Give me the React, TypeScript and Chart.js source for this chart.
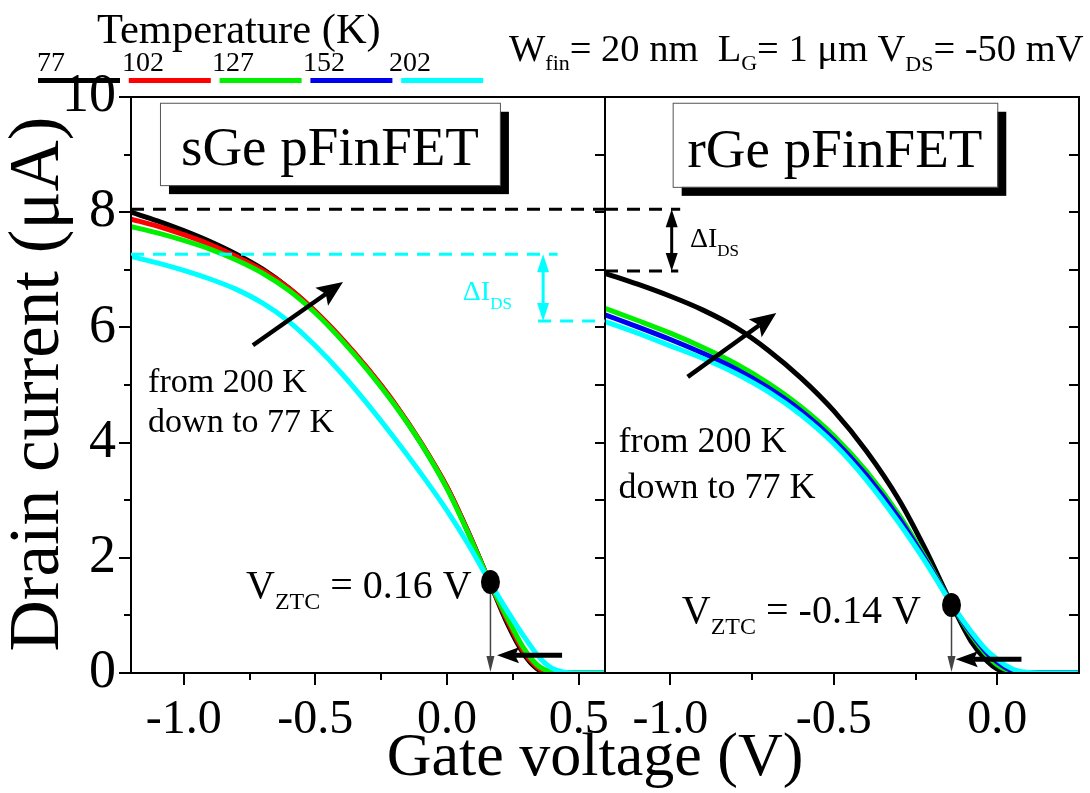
import React, { useEffect, useRef } from 'react';
import { Chart, registerables } from 'chart.js';

Chart.register(...registerables);

const FONT = "'Liberation Serif', 'Times New Roman', serif";

// ---------- legend ----------
const temperatureLabels = ['77', '102', '127', '152', '202'];
const seriesColors = ['#000000', '#ff0000', '#00f000', '#0000f0', '#00ffff'];

// ---------- sGe pFinFET (left panel) ----------
const sgeGateVoltage = [-1.2, -1.1, -1.0, -0.9, -0.8, -0.7, -0.6, -0.5, -0.4, -0.3, -0.2, -0.1, 0.0, 0.08, 0.16, 0.23, 0.29, 0.34, 0.37, 0.4, 0.44, 0.5, 0.6];
const sgeCurrent77 = [8.0, 7.85, 7.68, 7.49, 7.27, 7.01, 6.68, 6.27, 5.8, 5.27, 4.68, 4.0, 3.22, 2.45, 1.6, 0.85, 0.34, 0.08, 0.015, 0, 0, 0, 0];
const sgeCurrent102 = [7.88, 7.76, 7.61, 7.44, 7.23, 6.99, 6.68, 6.28, 5.81, 5.28, 4.69, 4.01, 3.23, 2.45, 1.6, 0.9, 0.38, 0.11, 0.03, 0.005, 0, 0, 0];
const sgeCurrent127 = [7.75, 7.64, 7.51, 7.36, 7.17, 6.94, 6.64, 6.25, 5.78, 5.25, 4.66, 3.99, 3.2, 2.43, 1.6, 0.95, 0.44, 0.15, 0.06, 0.02, 0, 0, 0];
const sgeCurrent202 = [7.23, 7.12, 6.99, 6.84, 6.66, 6.42, 6.1, 5.68, 5.2, 4.66, 4.08, 3.47, 2.82, 2.24, 1.6, 1.07, 0.65, 0.33, 0.18, 0.08, 0.02, 0, 0];

// ---------- rGe pFinFET (right panel) ----------
const rgeGateVoltage = [-1.2, -1.1, -1.0, -0.9, -0.8, -0.7, -0.6, -0.5, -0.4, -0.3, -0.22, -0.14, -0.08, -0.03, 0.0, 0.03, 0.06, 0.1, 0.15, 0.25];
const rgeCurrent77 = [6.94, 6.75, 6.54, 6.3, 6.0, 5.6, 5.12, 4.55, 3.85, 3.0, 2.15, 1.2, 0.55, 0.2, 0.07, 0.01, 0, 0, 0, 0];
const rgeCurrent127 = [6.33, 6.12, 5.9, 5.65, 5.37, 5.03, 4.62, 4.12, 3.5, 2.74, 2.0, 1.2, 0.66, 0.3, 0.14, 0.05, 0.01, 0, 0, 0];
const rgeCurrent152 = [6.22, 6.01, 5.79, 5.55, 5.28, 4.95, 4.55, 4.05, 3.43, 2.68, 1.97, 1.2, 0.69, 0.34, 0.19, 0.08, 0.02, 0, 0, 0];
const rgeCurrent202 = [6.1, 5.9, 5.68, 5.46, 5.2, 4.88, 4.48, 3.98, 3.35, 2.6, 1.93, 1.2, 0.72, 0.38, 0.24, 0.12, 0.04, 0.008, 0, 0];

// ---------- axes ----------
const yTickValues = [0, 1, 2, 3, 4, 5, 6, 7, 8, 9, 10];
const yMajorTicks = [0, 2, 4, 6, 8, 10];
const sgeXTickValues = [-1.0, -0.75, -0.5, -0.25, 0, 0.25, 0.5];
const rgeXTickValues = [-1.0, -0.75, -0.5, -0.25, 0];
const xMajorTicks = [-1.0, -0.5, 0, 0.5];

// ---------- annotations (data coordinates) ----------
const sgeZtc = { x: 0.165, y: 1.58, label: '= 0.16 V' };
const rgeZtc = { x: -0.14, y: 1.18, label: '= -0.14 V' };
const deltaLevelTop = 8.05;
const sgeDeltaLow = { top: 7.27, bottom: 6.11 };
const rgeDeltaLow = 6.98;

type Run = { t: string; size: number; dy: number };

function drawRuns(ctx: CanvasRenderingContext2D, x: number, y: number, runs: Run[], color: string) {
  ctx.fillStyle = color;
  ctx.textBaseline = 'alphabetic';
  ctx.textAlign = 'left';
  let cx = x;
  for (const r of runs) {
    ctx.font = `${r.size}px ${FONT}`;
    ctx.fillText(r.t, cx, y + r.dy);
    cx += ctx.measureText(r.t).width;
  }
}

function head(ctx: CanvasRenderingContext2D, x1: number, y1: number, x2: number, y2: number, len: number, hw: number, notch = 0) {
  const a = Math.atan2(y2 - y1, x2 - x1);
  const c = Math.cos(a), s = Math.sin(a);
  ctx.beginPath();
  ctx.moveTo(x2, y2);
  ctx.lineTo(x2 - len * c + hw * s, y2 - len * s - hw * c);
  ctx.lineTo(x2 - (len - notch) * c, y2 - (len - notch) * s);
  ctx.lineTo(x2 - len * c - hw * s, y2 - len * s + hw * c);
  ctx.closePath();
  ctx.fill();
}

function arrow(ctx: CanvasRenderingContext2D, x1: number, y1: number, x2: number, y2: number, color: string, w: number, len: number, hw: number, notch = 0) {
  const a = Math.atan2(y2 - y1, x2 - x1);
  ctx.strokeStyle = color;
  ctx.fillStyle = color;
  ctx.lineWidth = w;
  ctx.setLineDash([]);
  ctx.beginPath();
  ctx.moveTo(x1, y1);
  ctx.lineTo(x2 - (len - notch) * Math.cos(a), y2 - (len - notch) * Math.sin(a));
  ctx.stroke();
  head(ctx, x1, y1, x2, y2, len, hw, notch);
}

function doubleArrow(ctx: CanvasRenderingContext2D, x: number, yTop: number, yBot: number, color: string) {
  ctx.strokeStyle = color;
  ctx.fillStyle = color;
  ctx.lineWidth = 3;
  ctx.setLineDash([]);
  ctx.beginPath();
  ctx.moveTo(x, yTop + 12);
  ctx.lineTo(x, yBot - 12);
  ctx.stroke();
  head(ctx, x, yBot, x, yTop, 18, 6);
  head(ctx, x, yTop, x, yBot, 18, 6);
}

function dashed(ctx: CanvasRenderingContext2D, x1: number, x2: number, y: number, color: string) {
  ctx.strokeStyle = color;
  ctx.lineWidth = 3;
  ctx.setLineDash([13, 9]);
  ctx.beginPath();
  ctx.moveTo(x1, y);
  ctx.lineTo(x2, y);
  ctx.stroke();
  ctx.setLineDash([]);
}

function box(ctx: CanvasRenderingContext2D, x1: number, y1: number, x2: number, y2: number, text: string) {
  ctx.fillStyle = '#000';
  ctx.fillRect(x1 + 9, y1 + 9, x2 - x1, y2 - y1);
  ctx.fillStyle = '#fff';
  ctx.fillRect(x1, y1, x2 - x1, y2 - y1);
  ctx.strokeStyle = '#555';
  ctx.lineWidth = 1;
  ctx.strokeRect(x1 + 0.5, y1 + 0.5, x2 - x1, y2 - y1);
  ctx.fillStyle = '#000';
  ctx.font = `55px ${FONT}`;
  ctx.textAlign = 'center';
  ctx.textBaseline = 'alphabetic';
  ctx.fillText(text, (x1 + x2) / 2, y2 - 20);
}

function ztcMark(ctx: CanvasRenderingContext2D, px: number, py: number, bottom: number) {
  ctx.strokeStyle = '#444';
  ctx.fillStyle = '#444';
  ctx.lineWidth = 1.5;
  ctx.beginPath();
  ctx.moveTo(px, py);
  ctx.lineTo(px, bottom - 12);
  ctx.stroke();
  head(ctx, px, py, px, bottom - 1, 16, 4);
  ctx.fillStyle = '#000';
  ctx.beginPath();
  ctx.ellipse(px, py, 9.5, 12, 0, 0, Math.PI * 2);
  ctx.fill();
}

function drawTicks(chart: any, xTicks: number[], leftOutside: boolean) {
  const ctx = chart.ctx as CanvasRenderingContext2D;
  const xs = chart.scales.x, ys = chart.scales.y;
  const a = chart.chartArea;
  ctx.strokeStyle = '#000';
  ctx.lineWidth = 2;
  ctx.setLineDash([]);
  ctx.beginPath();
  for (const v of xTicks) {
    const p = Math.round(xs.getPixelForValue(v));
    const len = xMajorTicks.includes(v) ? 12 : 7;
    ctx.moveTo(p, a.bottom);
    ctx.lineTo(p, a.bottom + len);
  }
  for (const v of yTickValues) {
    const p = Math.round(ys.getPixelForValue(v));
    if (leftOutside) {
      const len = yMajorTicks.includes(v) ? 12 : 7;
      ctx.moveTo(a.left, p);
      ctx.lineTo(a.left - len, p);
    }
    ctx.moveTo(a.right, p);
    ctx.lineTo(a.right - 10, p);
  }
  ctx.stroke();
  ctx.strokeRect(a.left, a.top, a.right - a.left, a.bottom - a.top);
}

const leftDecor = {
  id: 'leftDecor',
  afterDraw(chart: any) {
    const ctx = chart.ctx as CanvasRenderingContext2D;
    const X = (v: number) => chart.scales.x.getPixelForValue(v);
    const Y = (v: number) => chart.scales.y.getPixelForValue(v);
    const a = chart.chartArea;
    ctx.save();
    drawTicks(chart, sgeXTickValues, true);

    // dashed reference lines
    dashed(ctx, a.left, a.right, Y(deltaLevelTop), '#000');
    dashed(ctx, a.left, X(0.42), Y(sgeDeltaLow.top), '#00ffff');
    dashed(ctx, X(0.346), a.right, Y(sgeDeltaLow.bottom), '#00ffff');
    doubleArrow(ctx, X(0.365), Y(sgeDeltaLow.top), Y(sgeDeltaLow.bottom), '#00ffff');
    drawRuns(ctx, X(0.06), Y(6.48), [{ t: 'ΔI', size: 28, dy: 0 }, { t: 'DS', size: 17, dy: 9 }], '#00ffff');

    // trend arrow
    arrow(ctx, X(-0.737), Y(5.69), X(-0.395), Y(6.79), '#000', 4.5, 26, 11, 5);
    drawRuns(ctx, X(-1.135), Y(4.88), [{ t: 'from 200 K', size: 34, dy: 0 }], '#000');
    drawRuns(ctx, X(-1.135), Y(4.18), [{ t: 'down to 77 K', size: 34, dy: 0 }], '#000');

    // ZTC
    ztcMark(ctx, X(sgeZtc.x), Y(sgeZtc.y), a.bottom);
    arrow(ctx, X(0.437), Y(0.31), X(0.19), Y(0.31), '#000', 5, 22, 8, 4);
    drawRuns(ctx, X(-0.763), Y(1.3), [{ t: 'V', size: 40, dy: 0 }, { t: 'ZTC', size: 24, dy: 11 }, { t: ' ' + sgeZtc.label, size: 40, dy: 0 }], '#000');

    box(ctx, X(-1.09), Y(9.9), X(0.201), Y(8.47), 'sGe pFinFET');

    // legend
    drawRuns(ctx, 97, 43, [{ t: 'Temperature (K)', size: 42.5, dy: 0 }], '#000');
    const labelX = [37, 122, 212, 303, 389];
    temperatureLabels.forEach((t, i) => {
      drawRuns(ctx, labelX[i], 71, [{ t, size: 28, dy: 0 }], '#000');
      ctx.fillStyle = seriesColors[i];
      ctx.fillRect(38 + i * 90.8, 78, 82, 5);
    });

    // conditions
    drawRuns(ctx, 509, 61, [
      { t: 'W', size: 38.5, dy: 0 }, { t: 'fin', size: 22, dy: 9 },
      { t: '= 20 nm  L', size: 38.5, dy: 0 }, { t: 'G', size: 22, dy: 9 },
      { t: '= 1 μm V', size: 38.5, dy: 0 }, { t: 'DS', size: 22, dy: 10 },
      { t: '= -50 mV', size: 38.5, dy: 0 },
    ], '#000');

    // axis titles
    ctx.fillStyle = '#000';
    ctx.font = `62px ${FONT}`;
    ctx.textAlign = 'center';
    ctx.textBaseline = 'alphabetic';
    ctx.fillText('Gate voltage (V)', 595, 775);
    ctx.save();
    ctx.translate(58, 384);
    ctx.rotate(-Math.PI / 2);
    ctx.font = `71px ${FONT}`;
    ctx.fillText('Drain current (μA)', 0, 0);
    ctx.restore();
    ctx.restore();
  },
};

const rightDecor = {
  id: 'rightDecor',
  afterDraw(chart: any) {
    const ctx = chart.ctx as CanvasRenderingContext2D;
    const X = (v: number) => chart.scales.x.getPixelForValue(v);
    const Y = (v: number) => chart.scales.y.getPixelForValue(v);
    const a = chart.chartArea;
    ctx.save();
    drawTicks(chart, rgeXTickValues, false);

    dashed(ctx, a.left, X(-0.97), Y(deltaLevelTop), '#000');
    dashed(ctx, a.left, X(-0.976), Y(rgeDeltaLow), '#000');
    doubleArrow(ctx, X(-0.996), Y(deltaLevelTop), Y(rgeDeltaLow), '#000');
    drawRuns(ctx, X(-0.94), Y(7.4), [{ t: 'ΔI', size: 28, dy: 0 }, { t: 'DS', size: 17, dy: 9 }], '#000');

    arrow(ctx, X(-0.947), Y(5.14), X(-0.676), Y(6.25), '#000', 4.5, 26, 11, 5);
    drawRuns(ctx, X(-1.159), Y(3.84), [{ t: 'from 200 K', size: 36, dy: 0 }], '#000');
    drawRuns(ctx, X(-1.159), Y(3.04), [{ t: 'down to 77 K', size: 36, dy: 0 }], '#000');

    ztcMark(ctx, X(rgeZtc.x), Y(rgeZtc.y), a.bottom);
    arrow(ctx, X(0.074), Y(0.24), X(-0.127), Y(0.24), '#000', 5, 22, 8, 4);
    drawRuns(ctx, X(-0.965), Y(0.87), [{ t: 'V', size: 40, dy: 0 }, { t: 'ZTC', size: 24, dy: 11 }, { t: ' ' + rgeZtc.label, size: 40, dy: 0 }], '#000');

    box(ctx, X(-0.993), Y(9.9), X(0.0), Y(8.44), 'rGe pFinFET');
    ctx.restore();
  },
};

function makeDatasets(xs: number[], series: number[][], colorIdx: number[]) {
  return series.map((ys, k) => ({
    label: temperatureLabels[colorIdx[k]] + ' K',
    data: xs.map((x, i) => ({ x, y: ys[i] })),
    borderColor: seriesColors[colorIdx[k]],
    borderWidth: 5,
    pointRadius: 0,
    fill: false,
    cubicInterpolationMode: 'monotone' as const,
    order: 4 - colorIdx[k],
  }));
}

function xScale(min: number, max: number, ticks: number[]) {
  return {
    type: 'linear' as const,
    min,
    max,
    grid: { display: false, drawTicks: false },
    border: { display: false },
    afterBuildTicks: (s: any) => { s.ticks = ticks.map((v) => ({ value: v })); },
    afterFit: (s: any) => { s.height = 120; },
    ticks: {
      autoSkip: false,
      maxRotation: 0,
      padding: 19,
      color: '#000',
      font: { family: FONT, size: 48 },
      callback: (v: any) => (xMajorTicks.includes(Number(v)) ? Number(v).toFixed(1) : ''),
    },
  };
}

export default function App() {
  const leftRef = useRef<HTMLCanvasElement>(null);
  const rightRef = useRef<HTMLCanvasElement>(null);

  useEffect(() => {
    const left = new Chart(leftRef.current!, {
      type: 'line',
      data: {
        datasets: makeDatasets(sgeGateVoltage, [sgeCurrent77, sgeCurrent102, sgeCurrent127, sgeCurrent202], [0, 1, 2, 4]),
      },
      options: {
        animation: false,
        responsive: true,
        maintainAspectRatio: false,
        layout: { padding: { top: 97, right: 485, left: 0, bottom: 0 } },
        plugins: { legend: { display: false }, tooltip: { enabled: false } },
        scales: {
          x: xScale(-1.2, 0.6, sgeXTickValues),
          y: {
            type: 'linear',
            min: 0,
            max: 10,
            grid: { display: false, drawTicks: false },
            border: { display: false },
            afterBuildTicks: (s: any) => { s.ticks = yTickValues.map((v) => ({ value: v })); },
            afterFit: (s: any) => { s.width = 131; },
            ticks: {
              padding: 15,
              color: '#000',
              font: { family: FONT, size: 54 },
              callback: (v: any) => (yMajorTicks.includes(Number(v)) ? String(v) : ''),
            },
          },
        },
      },
      plugins: [leftDecor],
    });

    const right = new Chart(rightRef.current!, {
      type: 'line',
      data: {
        datasets: makeDatasets(rgeGateVoltage, [rgeCurrent77, rgeCurrent127, rgeCurrent152, rgeCurrent202], [0, 2, 3, 4]),
      },
      options: {
        animation: false,
        responsive: true,
        maintainAspectRatio: false,
        layout: { padding: { top: 97, right: 11, left: 0, bottom: 0 } },
        plugins: { legend: { display: false }, tooltip: { enabled: false } },
        scales: {
          x: xScale(-1.2, 0.25, rgeXTickValues),
          y: { type: 'linear', min: 0, max: 10, display: false },
        },
      },
      plugins: [rightDecor],
    });

    return () => {
      left.destroy();
      right.destroy();
    };
  }, []);

  return (
    <div style={{ position: 'fixed', left: 0, top: 0, width: 1090, height: 793, background: '#fff' }}>
      <div style={{ position: 'absolute', left: 0, top: 0, width: 1090, height: 793 }}>
        <canvas ref={leftRef} />
      </div>
      <div style={{ position: 'absolute', left: 605, top: 0, width: 485, height: 793 }}>
        <canvas ref={rightRef} />
      </div>
    </div>
  );
}
